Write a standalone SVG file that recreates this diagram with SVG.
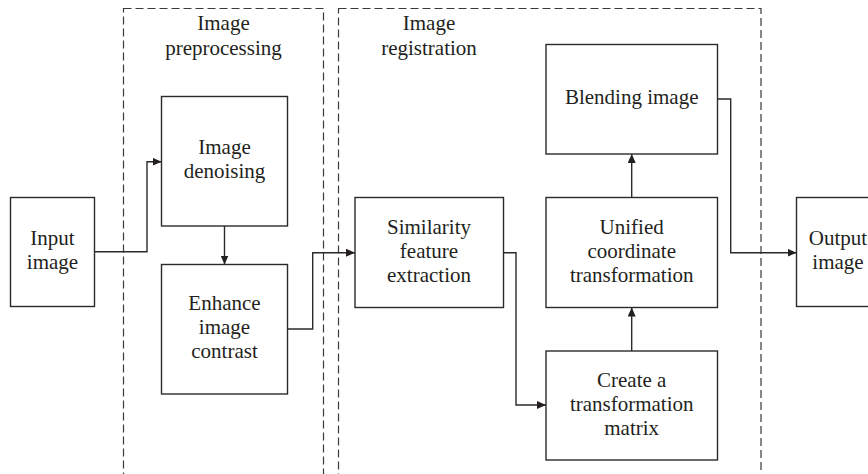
<svg xmlns="http://www.w3.org/2000/svg" width="868" height="474" viewBox="0 0 868 474">
  <style>
    .stage { fill: none; stroke: #3a3a3a; stroke-width: 1.2; stroke-dasharray: 8 4; }
    .box { fill: #ffffff; stroke: #2b2b2b; stroke-width: 1.4; }
    .lbl { font-size: 21px; fill: #231f20; text-anchor: middle; }
    .link { fill: none; stroke: #2b2b2b; stroke-width: 1.4; }
  </style>
  <defs>
    <marker id="arrow" viewBox="0 0 9 8" refX="9" refY="4" markerWidth="9" markerHeight="8" markerUnits="userSpaceOnUse" orient="auto">
      <path d="M0,0 L9,4 L0,8 z" fill="#231f20"/>
    </marker>
  </defs>
  <rect width="868" height="474" fill="#ffffff"/>

  <g font-family="'Liberation Serif', 'Times New Roman', serif">
  <!-- processing stages -->
  <g id="stage-preprocessing">
    <rect class="stage" x="123.5" y="8.5" width="200" height="480"/>
    <text class="lbl" x="223.5" y="30">Image</text>
    <text class="lbl" x="223.5" y="54.5">preprocessing</text>
  </g>
  <g id="stage-registration">
    <rect class="stage" x="338.5" y="8.5" width="422.5" height="480"/>
    <text class="lbl" x="429" y="30">Image</text>
    <text class="lbl" x="429" y="54.5">registration</text>
  </g>

  <!-- connectors -->
  <g id="connectors">
    <path class="link" d="M94.5,251.7 H147 V161.7 H161.5" marker-end="url(#arrow)"/>
    <path class="link" d="M224.5,226 V264.5" marker-end="url(#arrow)"/>
    <path class="link" d="M287.5,329 H312.7 V252.7 H355" marker-end="url(#arrow)"/>
    <path class="link" d="M503.5,252.7 H516 V405 H546" marker-end="url(#arrow)"/>
    <path class="link" d="M631.7,351 V307.5" marker-end="url(#arrow)"/>
    <path class="link" d="M631.7,197.5 V154" marker-end="url(#arrow)"/>
    <path class="link" d="M717.5,99 H730.7 V252.7 H796.5" marker-end="url(#arrow)"/>
  </g>

  <!-- nodes -->
  <g id="input-image">
    <rect class="box" x="10.5" y="197.5" width="84" height="109"/>
    <text class="lbl" x="52.5" y="245">Input</text>
    <text class="lbl" x="52.5" y="269">image</text>
  </g>
  <g id="image-denoising">
    <rect class="box" x="161.5" y="96.5" width="126" height="129.5"/>
    <text class="lbl" x="224.5" y="154">Image</text>
    <text class="lbl" x="224.5" y="178">denoising</text>
  </g>
  <g id="enhance-contrast">
    <rect class="box" x="161.5" y="264.5" width="126" height="129.5"/>
    <text class="lbl" x="224.5" y="310">Enhance</text>
    <text class="lbl" x="224.5" y="334">image</text>
    <text class="lbl" x="224.5" y="358">contrast</text>
  </g>
  <g id="feature-extraction">
    <rect class="box" x="355" y="197.5" width="148.5" height="110"/>
    <text class="lbl" x="429" y="233.5">Similarity</text>
    <text class="lbl" x="429" y="257.5">feature</text>
    <text class="lbl" x="429" y="281.5">extraction</text>
  </g>
  <g id="blending-image">
    <rect class="box" x="546" y="44.5" width="171.5" height="109.5"/>
    <text class="lbl" x="631.7" y="104">Blending image</text>
  </g>
  <g id="unified-coordinates">
    <rect class="box" x="546" y="197.5" width="171.5" height="110"/>
    <text class="lbl" x="631.7" y="233.5">Unified</text>
    <text class="lbl" x="631.7" y="257.5">coordinate</text>
    <text class="lbl" x="631.7" y="281.5">transformation</text>
  </g>
  <g id="transformation-matrix">
    <rect class="box" x="546" y="351" width="171.5" height="109"/>
    <text class="lbl" x="631.7" y="386.5">Create a</text>
    <text class="lbl" x="631.7" y="410.5">transformation</text>
    <text class="lbl" x="631.7" y="434.5">matrix</text>
  </g>
  <g id="output-image">
    <rect class="box" x="796.5" y="197.5" width="84" height="109"/>
    <text class="lbl" x="838" y="245">Output</text>
    <text class="lbl" x="838" y="269">image</text>
  </g>
  </g>
</svg>
